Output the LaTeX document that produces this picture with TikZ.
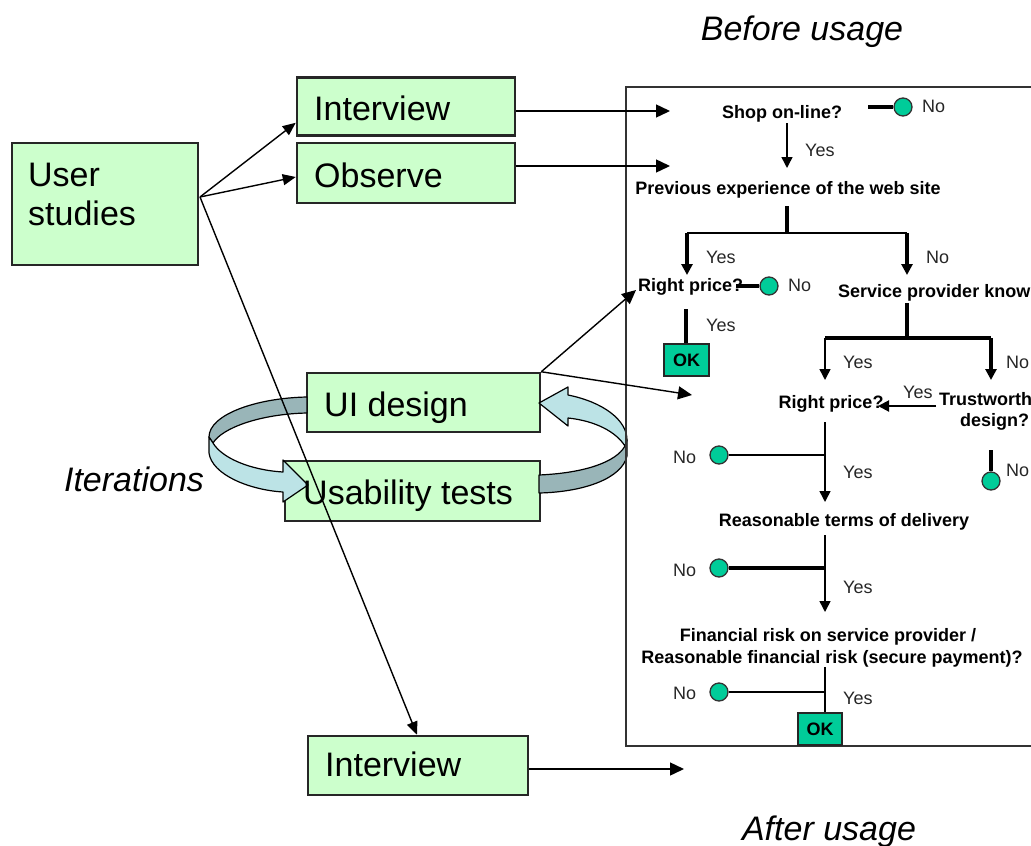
\documentclass[tikz,border=0pt]{standalone}
\usepackage{fontspec}
\setmainfont{Liberation Sans}
\usetikzlibrary{arrows.meta,calc}
\definecolor{boxgreen}{RGB}{204,255,204}
\definecolor{okteal}{RGB}{0,204,153}
\definecolor{ribdark}{RGB}{153,181,184}
\definecolor{riblight}{RGB}{188,227,230}
\tikzset{
  greenbox/.style={draw=black!85, line width=2.5pt, fill=boxgreen, inner sep=0},
  big/.style={font=\fontsize{34}{40}\selectfont, inner sep=0, text height=24.4pt, text depth=0pt},
  bigit/.style={font=\itshape\fontsize{34}{40}\selectfont, inner sep=0, text height=24.4pt, text depth=0pt},
  fc/.style={font=\bfseries\fontsize{18}{21}\selectfont, inner sep=0, text height=12.9pt, text depth=0pt},
  yn/.style={font=\fontsize{18}{21}\selectfont, text=black!85, inner sep=0, text height=12.9pt, text depth=0pt},
  conn/.style={line width=1.4pt, -{Triangle[length=13pt,width=11pt]}},
  pconn/.style={line width=1.4pt, -{Triangle[length=14pt,width=13pt]}},
  fthin/.style={line width=1.5pt},
  fthick/.style={line width=4pt},
  ftip/.style={-{Triangle[length=11pt,width=11pt]}},
  circ/.style={circle, draw=black!80, line width=1.3pt, fill=okteal, minimum size=18pt, inner sep=0},
  okbox/.style={draw=black!85, line width=2.5pt, fill=okteal, inner sep=0, font=\bfseries\fontsize{18}{21}\selectfont},
  ribbon/.style={draw=black, line width=1.2pt, line join=round}
}
\begin{document}
\begin{tikzpicture}[x=1pt,y=-1pt]
\useasboundingbox (0,0) rectangle (1031,846);
\clip (0,0) rectangle (1031,846);

% titles
\node[bigit] (before) at (802,28) {Before usage};
\node[bigit] (after) at (829,828) {After usage};
\node[bigit] (iter) at (134,479) {Iterations};

% left boxes
\node[greenbox, minimum width=186pt, minimum height=122pt] (us) at (105,204) {};
\node[big, anchor=west] (ust1) at (28,174) {User};
\node[big, anchor=west] (ust2) at (28,213) {studies};
\node[greenbox, minimum width=218pt, minimum height=58pt] (int1) at (406,106.5) {};
\node[big, anchor=west] (int1t) at (314,108) {Interview};
\node[greenbox, minimum width=218pt, minimum height=60pt] (obs) at (406,173) {};
\node[big, anchor=west] (obst) at (314,175) {Observe};
\node[greenbox, minimum width=233pt, minimum height=59pt] (uid) at (423.5,402.5) {};
\node[big, anchor=west] (uidt) at (324,404) {UI design};
\node[greenbox, minimum width=255pt, minimum height=60pt] (ust) at (412.5,491) {};
\node[greenbox, minimum width=220pt, minimum height=59pt] (int2) at (418,765.5) {};
\node[big, anchor=west] (int2t) at (325,764) {Interview};

% ribbons (iteration loop)
\filldraw[ribbon, fill=ribdark] (307,397) .. controls (255,398) and (209,415) .. (209,437)
  -- (213,443) .. controls (222,428) and (260,414) .. (307,413) -- cycle;
\filldraw[ribbon, fill=riblight] (209,437) -- (209,453) .. controls (212,475) and (250,490) .. (283,492)
  -- (283,502) -- (308,485) -- (283,460) -- (283,472)
  .. controls (250,470) and (222,458) .. (213,443) -- cycle;
\filldraw[ribbon, fill=ribdark] (539,475) .. controls (585,473) and (616,462) .. (625,446)
  -- (627,440) -- (627,456) .. controls (622,478) and (585,492) .. (539,493) -- cycle;
\filldraw[ribbon, fill=riblight] (568,395) .. controls (603,402) and (627,420) .. (627,440)
  -- (625,446) .. controls (616,432) and (596,421) .. (568,418) -- (568,426) -- (539,403)
  -- (568,387) -- cycle;
\node[big, anchor=west] (ustt) at (303,492.5) {Usability tests};

% panel
\draw[line width=2.5pt, draw=black!80] (626,87) rectangle (1045,746);

% connectors from the left
\coordinate (usout) at (200,197);
\draw[conn] (usout) -- ($(int1.south west)+(0,-14)$);
\draw[conn] (usout) -- ($(obs.west)+(0,4)$);
\draw[conn] (usout) -- ($(int2.north)+(-1,0)$);
\coordinate (p1) at (670,111);
\coordinate (p2) at (670,166);
\coordinate (p3) at (636,290);
\coordinate (p4) at (692,395);
\coordinate (p5) at (684,769);
\draw[pconn] (int1.east |- p1) -- (p1);
\draw[pconn] (obs.east |- p2) -- (p2);
\draw[pconn] (uid.north east) -- (p3);
\draw[pconn] (uid.north east) -- (p4);
\draw[pconn] (int2.east |- p5) -- (p5);

% flowchart
\node[fc] (shop) at (782,112) {Shop on-line?};
\node[circ] (c1) at (903,107) {};
\coordinate (c1a) at (868,107);
\draw[fthick] (c1a) -- (c1);
\node[yn, anchor=west] (n1) at (922,106) {No};
\node[fc] (prev) at (788,188) {Previous experience of the web site};
\draw[fthin, ftip] (787,123) -- (787,168);
\node[yn, anchor=west] (y1) at (805,150) {Yes};
\coordinate (b1) at (787,233);
\draw[fthick] (787,206) -- (b1);
\coordinate (b1l) at (687,233);
\coordinate (b1r) at (907,233);
\draw[line width=2pt] (b1l) -- (b1r);
\node[fc, anchor=west] (rp1) at (638,285) {Right price?};
\node[fc, anchor=west] (spk) at (838,291) {Service provider know};
\draw[fthick, ftip] (b1l) -- (687,275);
\draw[fthick, ftip] (b1r) -- (907,275);
\node[yn, anchor=west] (y2) at (706,257) {Yes};
\node[yn, anchor=west] (n2) at (926,257) {No};
\node[circ] (c2) at (769,286) {};
\draw[fthick] (736,286) -- (c2);
\node[yn, anchor=west] (n3) at (788,285) {No};
\node[okbox, minimum width=45pt, minimum height=32pt] (ok1) at (686.5,360) {OK};
\draw[fthick] (686,309) -- (ok1.north -| 686,0);
\node[yn, anchor=west] (y3) at (706,325) {Yes};
\coordinate (b2) at (907,338);
\draw[fthick] (907,303) -- (b2);
\coordinate (b2l) at (825,338);
\coordinate (b2r) at (991,338);
\draw[fthick] (b2l) -- (b2r);
\draw[fthin, ftip] (b2l) -- (825,380);
\draw[fthick, ftip] (b2r) -- (991,380);
\node[yn, anchor=west] (y4) at (843,362) {Yes};
\node[yn, anchor=west] (n4) at (1006,362) {No};
\node[fc] (rp2) at (831,402) {Right price?};
\node[fc, anchor=west] (tw1) at (939,399) {Trustworth};
\node[fc, anchor=west] (tw2) at (960,420) {design?};
\draw[line width=2pt, ftip] (936,406) -- (878,406);
\node[yn, anchor=west] (y5) at (903,392) {Yes};
\draw[fthin, ftip] (825,422) -- (825,502);
\node[circ] (c3) at (719,455) {};
\draw[fthin] (c3) -- (826,455);
\node[yn, anchor=west] (n5) at (673,457) {No};
\node[yn, anchor=west] (y6) at (843,472) {Yes};
\node[circ] (c4) at (991,481) {};
\draw[fthick] (991,450) -- (c4);
\node[yn, anchor=west] (n6) at (1006,470) {No};
\node[fc] (rtd) at (844,520) {Reasonable terms of delivery};
\draw[fthin, ftip] (825,535) -- (825,612);
\node[circ] (c5) at (719,568) {};
\draw[fthick] (c5) -- (826,568);
\node[yn, anchor=west] (n7) at (673,570) {No};
\node[yn, anchor=west] (y7) at (843,587) {Yes};
\node[fc] (fr1) at (828,635) {Financial risk on service provider /};
\node[fc] (fr2) at (832,657) {Reasonable financial risk (secure payment)?};
\node[okbox, minimum width=44pt, minimum height=32pt] (ok2) at (820,729) {OK};
\draw[fthin] (825,667) -- (ok2.north -| 825,0);
\node[circ] (c6) at (719,692) {};
\draw[fthin] (c6) -- (826,692);
\node[yn, anchor=west] (n8) at (673,693) {No};
\node[yn, anchor=west] (y8) at (843,698) {Yes};
\end{tikzpicture}
\end{document}
